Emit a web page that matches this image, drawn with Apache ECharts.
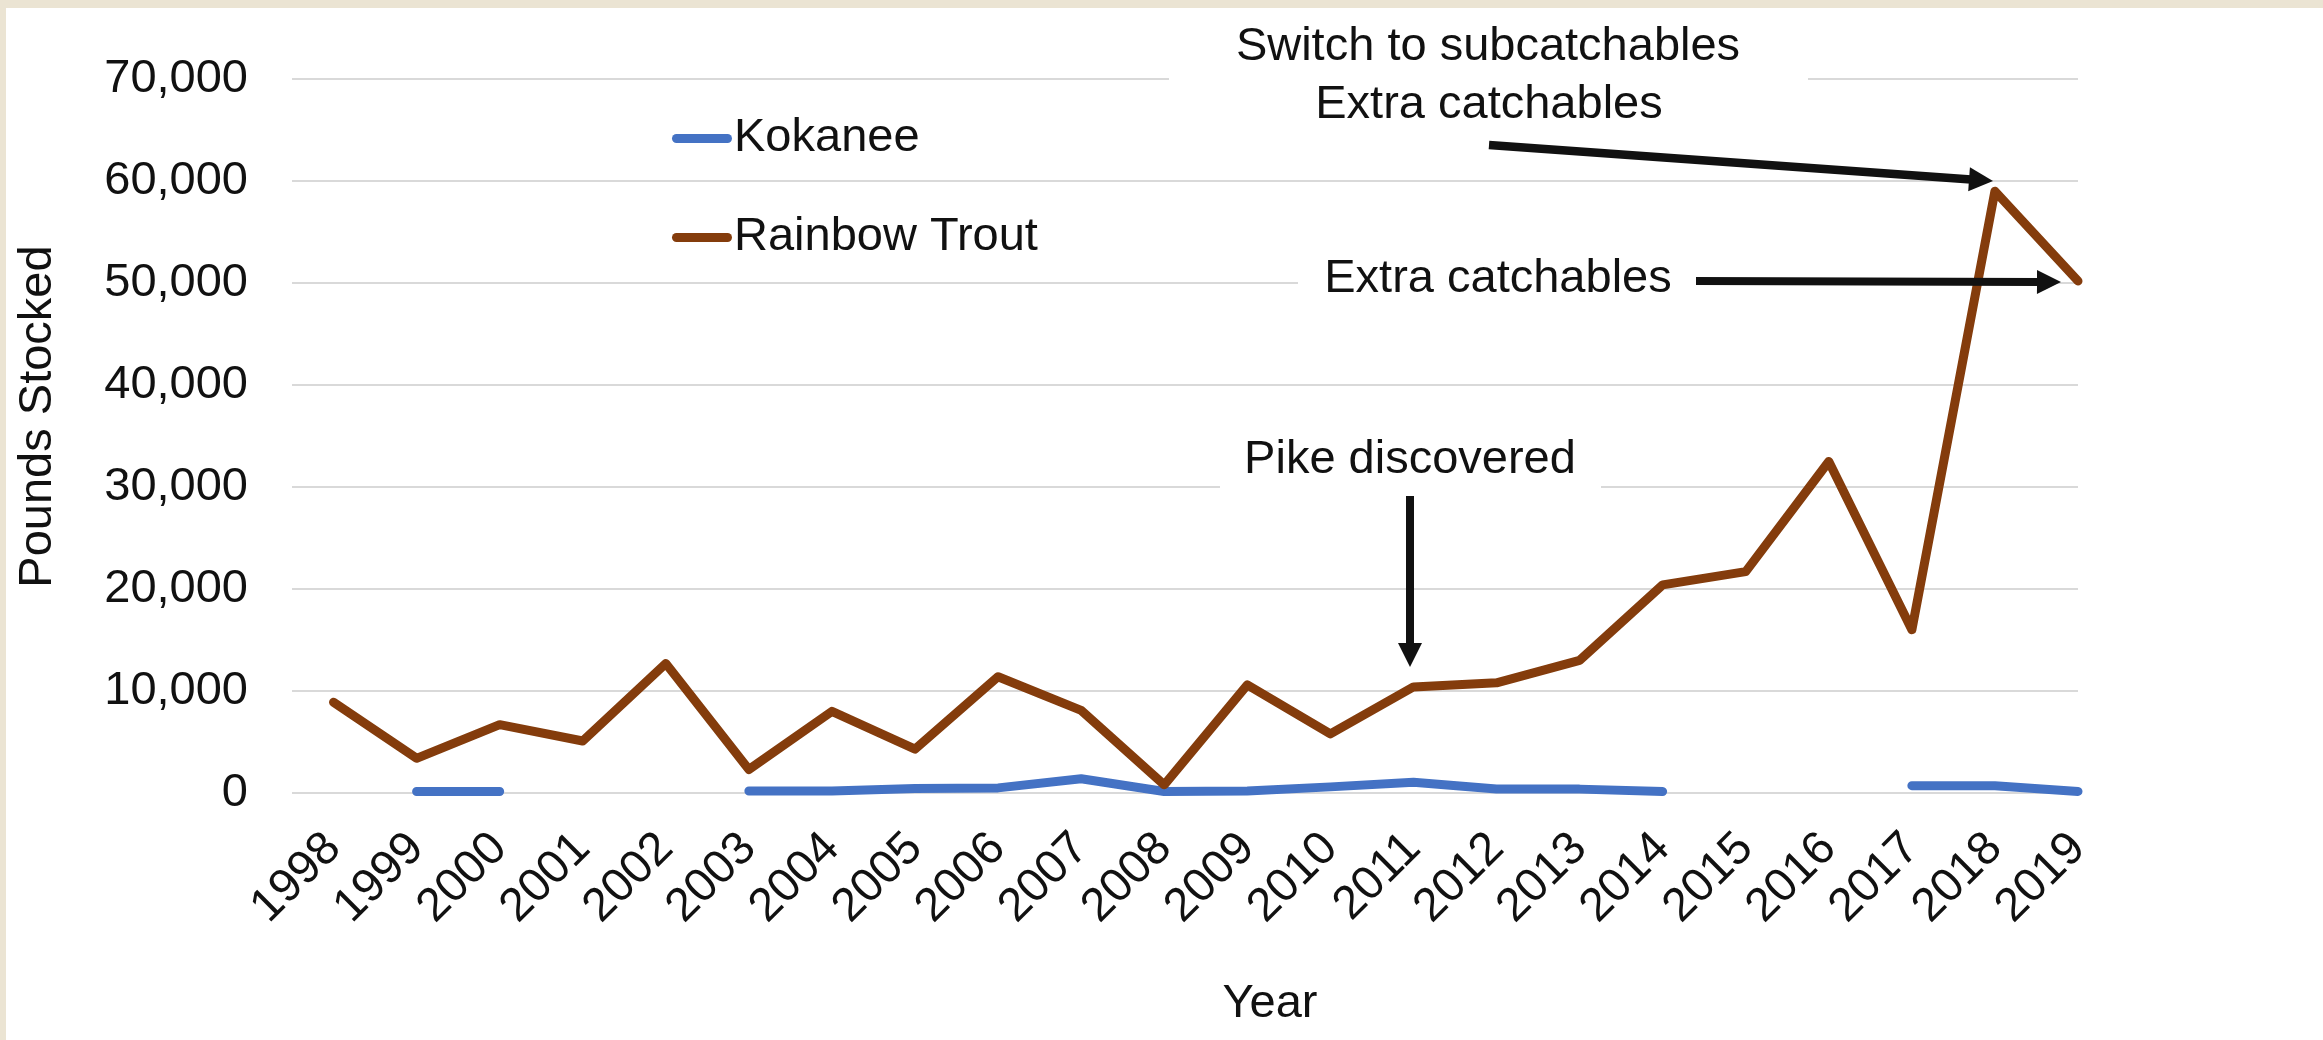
<!DOCTYPE html>
<html>
<head>
<meta charset="utf-8">
<script src="https://cdn.jsdelivr.net/npm/echarts@6/dist/echarts.min.js"></script>
<style>
html,body{margin:0;padding:0;background:#fff;}
#chart{width:2323px;height:1040px;}
</style>
</head>
<body>
<div id="chart"></div>
<script>
// ---- data ----
const years = [1998,1999,2000,2001,2002,2003,2004,2005,2006,2007,2008,2009,2010,2011,2012,2013,2014,2015,2016,2017,2018,2019];
const kokanee = [null,150,150,null,null,200,200,450,500,1400,150,200,600,1050,400,380,150,null,null,720,720,150];
const rainbowTrout = [8900,3400,6700,5100,12700,2300,8000,4300,11400,8100,800,10600,5800,10400,10800,13000,20400,21700,32500,16000,59000,50200];
const seriesNames = ['Kokanee','Rainbow Trout'];
const yAxisTitle = 'Pounds Stocked';
const xAxisTitle = 'Year';
const notes = ['Switch to subcatchables','Extra catchables','Extra catchables','Pike discovered'];

const FONT = '"Liberation Sans", Arial, sans-serif';
const FS = 47;
const INK = '#111';

function pairs(vals){ return years.map((y,i)=> vals[i] === null ? [y,'-'] : [y, vals[i]]); }

function arrow(x1,y1,x2,y2,w,headLen,headHalf){
  const dx=x2-x1, dy=y2-y1, L=Math.hypot(dx,dy);
  const ux=dx/L, uy=dy/L, px=-uy, py=ux;
  const bx=x2-ux*headLen, by=y2-uy*headLen;
  return [
    {type:'line', z:50, shape:{x1:x1,y1:y1,x2:bx+ux*2,y2:by+uy*2}, style:{stroke:INK,lineWidth:w}},
    {type:'polygon', z:51, shape:{points:[[x2,y2],[bx+px*headHalf,by+py*headHalf],[bx-px*headHalf,by-py*headHalf]]}, style:{fill:INK}}
  ];
}
function label(text,x,y,extra){
  return Object.assign({type:'text', z:60, x:x, y:y, style:{text:text, x:0, y:0, fill:INK, font: FS+'px '+FONT, align:'center', verticalAlign:'middle'}}, extra||{});
}
function box(x,y,w,h){ return {type:'rect', z:40, shape:{x:x,y:y,width:w,height:h}, style:{fill:'#fff'}}; }

const chart = echarts.init(document.getElementById('chart'), null, {renderer:'canvas'});

const graphics = [
  {type:'rect', z:0, shape:{x:0,y:0,width:2323,height:8}, style:{fill:'#ebe4d3'}},
  {type:'rect', z:0, shape:{x:0,y:0,width:6,height:1040}, style:{fill:'#ebe4d3'}},
  box(1169,12,639,128),
  box(1298,250,400,62),
  box(1220,420,381,78),
  label(notes[0],1488,47),
  label(notes[1],1489,105),
  label(notes[2],1498,279),
  label(notes[3],1410,460),
  label(xAxisTitle,1270,1004),
  label(yAxisTitle,38,416.5,{rotation:Math.PI/2}),
  ...arrow(1489,145,1993,181,8.5,24,12),
  ...arrow(1696,281,2061,282,8,24,12),
  ...arrow(1410,496,1410,667,8,24,12)
];

chart.setOption({
  backgroundColor:'#fff',
  animation:false,
  grid:{left:292, right:245, top:79, bottom:247, containLabel:false},
  legend:{
    data:seriesNames,
    orient:'vertical',
    left:667, top:110,
    itemWidth:60, itemHeight:9, itemGap:52,
    icon:'path://M4.5,0 L55.5,0 A4.5,4.5 0 0 1 55.5,9 L4.5,9 A4.5,4.5 0 0 1 4.5,0 Z',
    textStyle:{fontSize:FS, fontFamily:FONT, color:INK, padding:[0,0,0,-3]}
  },
  xAxis:{
    type:'value', min:1997.5, max:2019,
    axisLine:{show:false}, axisTick:{show:false}, splitLine:{show:false},
    axisLabel:{customValues:years, rotate:45, margin:48, fontSize:FS, fontFamily:FONT, color:INK,
      formatter:(v)=>String(Math.round(v))}
  },
  yAxis:{
    type:'value', min:0, max:70000, interval:10000,
    axisLine:{show:false}, axisTick:{show:false},
    splitLine:{show:true, lineStyle:{color:'#d9d9d9', width:2}},
    axisLabel:{margin:44, fontSize:FS, fontFamily:FONT, color:INK,
      formatter:(v)=>v.toLocaleString('en-US')}
  },
  series:[
    {name:seriesNames[0], type:'line', data:pairs(kokanee), showSymbol:false, symbol:'none',
     connectNulls:false, clip:true, color:'#4472c4',
     lineStyle:{color:'#4472c4', width:9, cap:'round', join:'round'}, z:3},
    {name:seriesNames[1], type:'line', data:pairs(rainbowTrout), showSymbol:false, symbol:'none',
     clip:true, color:'#843c0c',
     lineStyle:{color:'#843c0c', width:9, cap:'round', join:'round'}, z:4}
  ],
  graphic:{elements:graphics}
});
</script>
</body>
</html>
